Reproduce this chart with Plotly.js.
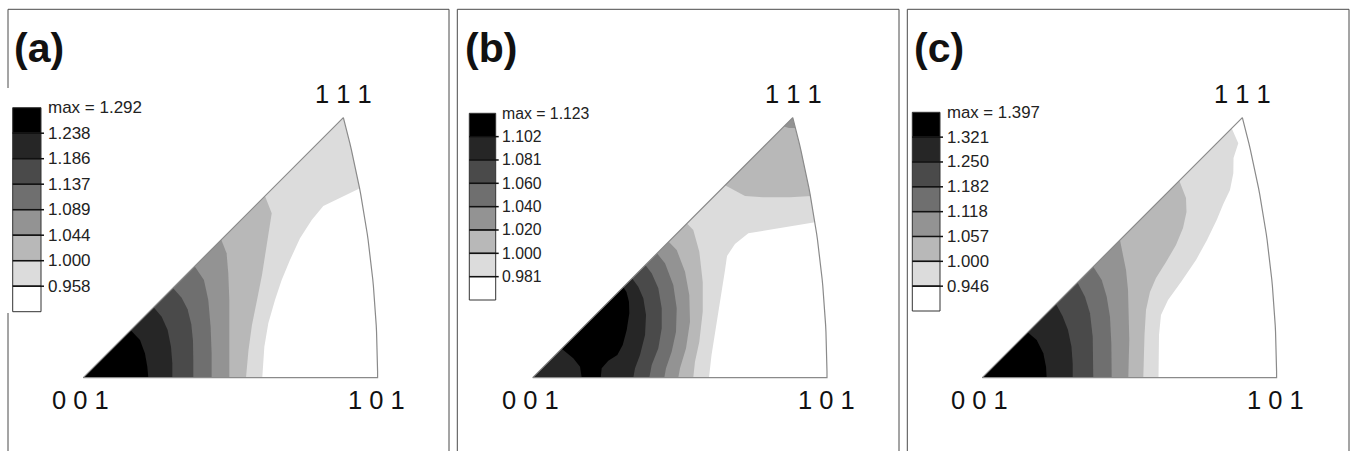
<!DOCTYPE html>
<html><head><meta charset="utf-8">
<script src="https://cdn.plot.ly/plotly-3.0.1.min.js"></script>
<style>html,body{margin:0;padding:0;background:#fff;}#chart{width:1352px;height:451px;}</style>
</head><body><div id="chart"></div>
<script>
// ---------- DATA (stereographic projection coordinates) ----------
// grey shade of each level band, from lowest (white) to highest (black)
const bandColors = ['#ffffff','#dcdcdc','#b8b8b8','#939393','#6f6f6f','#4a4a4a','#262626','#000000'];

// legend labels, top (max) to bottom
const levelsA = ['1.292','1.238','1.186','1.137','1.089','1.044','1.000','0.958'];
const levelsB = ['1.123','1.102','1.081','1.060','1.040','1.020','1.000','0.981'];
const levelsC = ['1.397','1.321','1.250','1.182','1.118','1.057','1.000','0.946'];

// vertex labels
const vertexLabels = ['0 0 1','1 0 1','1 1 1'];
const panelLabels = ['(a)','(b)','(c)'];

// super-level regions (painted lowest level first); band = index in bandColors
const bandA = [1,2,3,4,5,6,7];
const regA_x = [
  [0,0.3660,0.42,0.42,0.3923,0.3378,0.3215,0.3050,0.2909,0.2792,0.2698,0.2604,0.2548,0.2519],
  [0,0.2557,0.2652,0.2614,0.2572,0.2515,0.2445,0.2374,0.2325,0.2290],
  [0,0.1942,0.2017,0.2041,0.2055,0.2055,0.2055],
  [0,0.1567,0.1698,0.1759,0.1792,0.1806,0.1806],
  [0,0.1262,0.1384,0.1468,0.1520,0.1544,0.1548,0.1548],
  [0,0.0990,0.1103,0.1187,0.1234,0.1253,0.1253],
  [0,0.0668,0.0798,0.0868,0.0901,0.0915]
];
const regA_y = [
  [0,0.3660,0.3660,0.2680,0.2680,0.2417,0.2220,0.1962,0.1657,0.1375,0.1094,0.0766,0.0436,0],
  [0,0.2557,0.2314,0.2079,0.1797,0.1446,0.1094,0.0742,0.0390,0],
  [0,0.1942,0.1750,0.1468,0.1093,0.0563,0],
  [0,0.1567,0.1375,0.1093,0.0718,0.0342,0],
  [0,0.1262,0.1126,0.0962,0.0751,0.0516,0.0258,0],
  [0,0.0990,0.0859,0.0671,0.0436,0.0202,0],
  [0,0.0668,0.0530,0.0342,0.0155,0]
];

const bandB = [1,2,2,3,3,4,5,6,7];
const regB_x = [
  [0,0.3660,0.42,0.42,0.4016,0.3035,0.2847,0.2735,0.2707,0.2664,0.2622,0.2566,0.2517,0.2481],
  [0,0.2172,0.2260,0.2345,0.2393,0.2393,0.2345,0.2284,0.2260],
  [0.2707,0.2988,0.3241,0.3622,0.4044,0.4044,0.3660],
  [0,0.1914,0.2027,0.2144,0.2204,0.2214,0.2158,0.2073,0.2049],
  [0.3537,0.3607,0.3734,0.3734,0.3660],
  [0,0.1750,0.1862,0.1979,0.2027,0.2017,0.1956,0.1876,0.1852],
  [0,0.1585,0.1675,0.1768,0.1816,0.1816,0.1768,0.1675,0.1641],
  [0,0.1398,0.1486,0.1557,0.1595,0.1581,0.1510,0.1440,0.1416],
  [0.0408,0.0571,0.0666,0.0690,0.0957,0.0971,0.1064,0.1191,0.1267,0.1323,0.1360,0.1355,0.1320,0.1275]
];
const regB_y = [
  [0,0.3660,0.3660,0.2196,0.2196,0.2032,0.1882,0.1713,0.1516,0.1234,0.0953,0.0643,0.0320,0],
  [0,0.2172,0.2079,0.1773,0.1351,0.0929,0.0507,0.0225,0],
  [0.2707,0.2557,0.2539,0.2539,0.2564,0.3660,0.3660],
  [0,0.1914,0.1797,0.1492,0.1164,0.0788,0.0414,0.0132,0],
  [0.3537,0.3515,0.3515,0.3661,0.3660],
  [0,0.1750,0.1610,0.1305,0.0977,0.0647,0.0366,0.0132,0],
  [0,0.1585,0.1469,0.1258,0.0977,0.0695,0.0414,0.0179,0],
  [0,0.1398,0.1281,0.1118,0.0882,0.0601,0.0320,0.0132,0],
  [0.0408,0.0273,0.0155,0,0,0.0132,0.0239,0.0320,0.0460,0.0671,0.0906,0.1070,0.1206,0.1275]
];

const bandC = [1,2,3,4,5,6,7];
const regC_x = [
  [0,0.3510,0.3603,0.3536,0.3533,0.3486,0.3392,0.3299,0.3163,0.3008,0.2797,0.2614,0.2515,0.2487,0.2480],
  [0,0.2773,0.2867,0.2874,0.2825,0.2726,0.2586,0.2445,0.2360,0.2304,0.2283,0.2269,0.2266],
  [0,0.1938,0.1985,0.2023,0.2051,0.2065,0.2069,0.2061,0.2055],
  [0,0.1562,0.1681,0.1751,0.1797,0.1816,0.1821],
  [0,0.1340,0.1445,0.1516,0.1554,0.1562,0.1562],
  [0,0.1037,0.1129,0.1206,0.1255,0.1272,0.1272],
  [0,0.0639,0.0766,0.0859,0.0897,0.0906]
];
const regC_y = [
  [0,0.3510,0.3299,0.3092,0.2877,0.2642,0.2445,0.2220,0.1938,0.1657,0.1347,0.1094,0.0882,0.0601,0],
  [0,0.2773,0.2529,0.2332,0.2107,0.1868,0.1628,0.1403,0.1206,0.0953,0.0601,0.0249,0],
  [0,0.1938,0.1703,0.1516,0.1234,0.0859,0.0531,0.0249,0],
  [0,0.1562,0.1375,0.1140,0.0859,0.0484,0],
  [0,0.1340,0.1140,0.0906,0.0577,0.0296,0],
  [0,0.1037,0.0868,0.0671,0.0436,0.0203,0],
  [0,0.0639,0.0531,0.0343,0.0155,0]
];

// ---------- GEOMETRY / LAYOUT ----------
const W = 1352, H = 451, S = 710.5, OY = 377.7;
const panels = [
  {ox:83.3,  d0:0,   d1:451,  bands:bandA, rx:regA_x, ry:regA_y, levels:levelsA,
   leg:{x0:12.7, x1:41, y0:107.7, y1:311.7, lx:46, fs:17}, lab:12, border:[8,449]},
  {ox:532.7, d0:451, d1:903,  bands:bandB, rx:regB_x, ry:regB_y, levels:levelsB,
   leg:{x0:469.3, x1:495.7, y0:113.3, y1:300, lx:499.5, fs:15.8}, lab:462.5, border:[457.3,899]},
  {ox:982.3, d0:903, d1:1352, bands:bandC, rx:regC_x, ry:regC_y, levels:levelsC,
   leg:{x0:912.3, x1:940, y0:112.3, y1:311, lx:945, fs:16.8}, lab:911.5, border:[907.3,1349]}
];
const V101 = Math.SQRT2 - 1;           // 0.41421
const V111 = 1/(Math.sqrt(3)+1);       // 0.36603
const th111 = Math.atan2(V111, 1+V111);
const arcX = [], arcY = [];
for (let i = 0; i <= 40; i++) {
  const t = th111 * i / 40;
  arcX.push(-1 + Math.SQRT2*Math.cos(t));
  arcY.push(Math.SQRT2*Math.sin(t));
}

const FONT = 'Liberation Sans, Arial, Helvetica, sans-serif';
const traces = [], shapes = [], annotations = [];
const layout = {
  width: W, height: H, margin:{l:0,r:0,t:0,b:0},
  paper_bgcolor:'#ffffff', plot_bgcolor:'#ffffff', showlegend:false,
  font:{family:FONT}
};
const px2x = p => p / W, py2y = p => 1 - p / H;

panels.forEach((p, k) => {
  const s = k === 0 ? '' : String(k+1);
  const xa = 'x'+s, ya = 'y'+s;
  layout['xaxis'+s] = {domain:[p.d0/W, p.d1/W], range:[(p.d0-p.ox)/S, (p.d1-p.ox)/S],
    visible:false, fixedrange:true, anchor:ya};
  layout['yaxis'+s] = {domain:[0,1], range:[(OY-H)/S, OY/S], visible:false, fixedrange:true, anchor:xa};

  // contour regions
  p.rx.forEach((xs, j) => {
    const c = bandColors[p.bands[j]];
    traces.push({type:'scatter', mode:'lines', x:xs, y:p.ry[j], fill:'toself', fillcolor:c,
      line:{width:0, color:c}, xaxis:xa, yaxis:ya, hoverinfo:'skip', showlegend:false});
  });
  // white mask outside the 101-111 arc
  traces.push({type:'scatter', mode:'lines',
    x: arcX.concat([V111, 0.44, 0.44]), y: arcY.concat([0.40, 0.40, 0]),
    fill:'toself', fillcolor:'#ffffff', line:{width:0, color:'#ffffff'},
    xaxis:xa, yaxis:ya, hoverinfo:'skip', showlegend:false});
  // triangle outline
  traces.push({type:'scatter', mode:'lines',
    x:[0].concat(arcX, [0]), y:[0].concat(arcY, [0]),
    line:{width:1.2, color:'#8a8a8a'}, xaxis:xa, yaxis:ya, hoverinfo:'skip', showlegend:false});

  // vertex labels
  const vf = {family:FONT, size:25.5, color:'#111111'};
  annotations.push({xref:xa, yref:ya, x:0, y:0, text:vertexLabels[0], showarrow:false,
    xanchor:'center', yanchor:'middle', xshift:-2.5, yshift:-22.5, font:vf});
  annotations.push({xref:xa, yref:ya, x:V101, y:0, text:vertexLabels[1], showarrow:false,
    xanchor:'center', yanchor:'middle', xshift:-1, yshift:-22.5, font:vf});
  annotations.push({xref:xa, yref:ya, x:V111, y:V111, text:vertexLabels[2], showarrow:false,
    xanchor:'center', yanchor:'middle', xshift:0.5, yshift:23.5, font:vf});

  // panel label
  annotations.push({xref:'paper', yref:'paper', x:px2x(p.lab), y:py2y(48), text:'<b>'+panelLabels[k]+'</b>',
    showarrow:false, xanchor:'left', yanchor:'middle', font:{family:FONT, size:41, color:'#111111'}});

  // panel border
  const bl = p.border[0], br = p.border[1], bt = 9.3, bb = 470;
  const ln = {color:'#4a4a4a', width:1};
  shapes.push({type:'line', xref:'paper', yref:'paper', x0:px2x(bl), x1:px2x(br), y0:py2y(bt), y1:py2y(bt), line:ln});
  shapes.push({type:'line', xref:'paper', yref:'paper', x0:px2x(br), x1:px2x(br), y0:py2y(bt), y1:py2y(bb), line:ln});
  if (k === 0) {
    shapes.push({type:'line', xref:'paper', yref:'paper', x0:px2x(bl), x1:px2x(bl), y0:py2y(bt), y1:py2y(88), line:ln});
    shapes.push({type:'line', xref:'paper', yref:'paper', x0:px2x(bl), x1:px2x(bl), y0:py2y(313), y1:py2y(bb), line:ln});
  } else {
    shapes.push({type:'line', xref:'paper', yref:'paper', x0:px2x(bl), x1:px2x(bl), y0:py2y(bt), y1:py2y(bb), line:ln});
  }

  // legend
  const L = p.leg, n = p.levels.length, h = (L.y1 - L.y0) / n;
  for (let i = 0; i < n; i++) {
    shapes.push({type:'rect', xref:'paper', yref:'paper', x0:px2x(L.x0), x1:px2x(L.x1),
      y0:py2y(L.y0 + i*h), y1:py2y(L.y0 + (i+1)*h), fillcolor:bandColors[n-1-i],
      line:{color:'#333333', width:1}});
  }
  for (let i = 1; i < n; i++) {
    shapes.push({type:'line', xref:'paper', yref:'paper', x0:px2x(L.x0), x1:px2x(L.x1+3),
      y0:py2y(L.y0 + i*h), y1:py2y(L.y0 + i*h), line:{color:'#111111', width:1.5}});
  }
  for (let i = 0; i < n; i++) {
    annotations.push({xref:'paper', yref:'paper', x:px2x(L.lx), y:py2y(L.y0 + i*h),
      text:(i === 0 ? 'max = ' : '') + p.levels[i], showarrow:false, xanchor:'left', yanchor:'middle',
      font:{family:FONT, size:L.fs, color:'#222222'}});
  }
});

layout.shapes = shapes;
layout.annotations = annotations;
Plotly.newPlot('chart', traces, layout, {staticPlot:true, displayModeBar:false});
</script></body></html>
